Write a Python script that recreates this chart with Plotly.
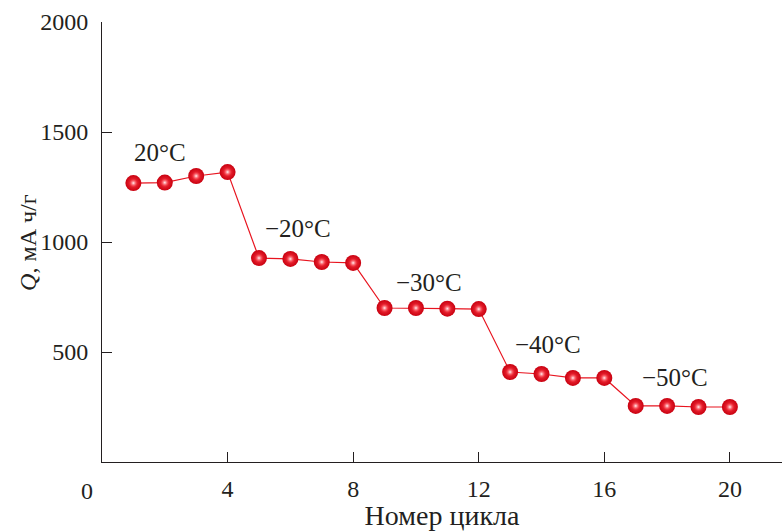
import plotly.graph_objects as go

# Discharge capacity per cycle at decreasing temperatures
cycles = list(range(1, 21))
capacity = [1268, 1270, 1300, 1318,
            927, 923, 909, 905,
            700, 700, 697, 695,
            409, 400, 382, 382,
            255, 255, 250, 250]

temp_labels = ["20°C", "\u221220°C", "\u221230°C", "\u221240°C", "\u221250°C"]
temp_label_x = [1.85, 6.25, 10.4, 14.2, 18.25]
temp_label_y = [1405, 1060, 818, 532, 382]

x_ticks = [4, 8, 12, 16, 20]
y_ticks = [500, 1000, 1500, 2000]

FONT = "Liberation Serif"
INK = "#231f20"
RED = "#e8141f"

fig = go.Figure()
# connecting line + shaded red balls (radial gradient: center colour in gradient.color)
fig.add_trace(go.Scatter(
    x=cycles, y=capacity,
    mode="lines+markers",
    line=dict(color=RED, width=1.2),
    marker=dict(size=16, color="#c8000f",
                gradient=dict(type="radial", color="#ff3a46"),
                line=dict(width=0)),
    showlegend=False, hoverinfo="skip",
))
# specular highlight on each ball
fig.add_trace(go.Scatter(
    x=cycles, y=capacity,
    mode="markers",
    marker=dict(size=9, color="rgba(255,60,70,0)",
                gradient=dict(type="radial", color="rgba(255,255,255,0.95)"),
                line=dict(width=0)),
    showlegend=False,
))

for t, tx, ty in zip(temp_labels, temp_label_x, temp_label_y):
    fig.add_annotation(x=tx, y=ty, text=t, showarrow=False,
                       font=dict(family=FONT, size=25, color=INK))

# shared origin label
fig.add_annotation(x=0, y=0, text="0", showarrow=False, xshift=-15, yshift=-29,
                   font=dict(family=FONT, size=24, color=INK))

# y-axis title
fig.add_annotation(xref="paper", yref="y", x=-0.109, y=1000, text="<i>Q</i>, мА ч/г",
                   textangle=-90, showarrow=False, xanchor="center", yanchor="middle",
                   font=dict(family=FONT, size=24, color=INK))

fig.update_layout(
    width=782, height=531,
    margin=dict(l=102, r=0, t=22, b=69),
    paper_bgcolor="white", plot_bgcolor="white",
    font=dict(family=FONT, size=24, color=INK),
    xaxis=dict(range=[0, 21.66], tickvals=x_ticks, ticks="inside", ticklen=10,
               tickcolor=INK, showline=True, linecolor=INK, linewidth=1,
               showgrid=False, zeroline=False, ticklabelstandoff=5,
               tickfont=dict(family=FONT, size=24, color=INK),
               title=dict(text="Номер цикла", standoff=0,
                          font=dict(family=FONT, size=28, color=INK))),
    yaxis=dict(range=[0, 2000], tickvals=y_ticks, ticks="inside", ticklen=10,
               tickcolor=INK, showline=True, linecolor=INK, linewidth=1,
               showgrid=False, zeroline=False, ticklabelstandoff=8,
               tickfont=dict(family=FONT, size=24, color=INK)),
)

fig.write_html("out.html")
